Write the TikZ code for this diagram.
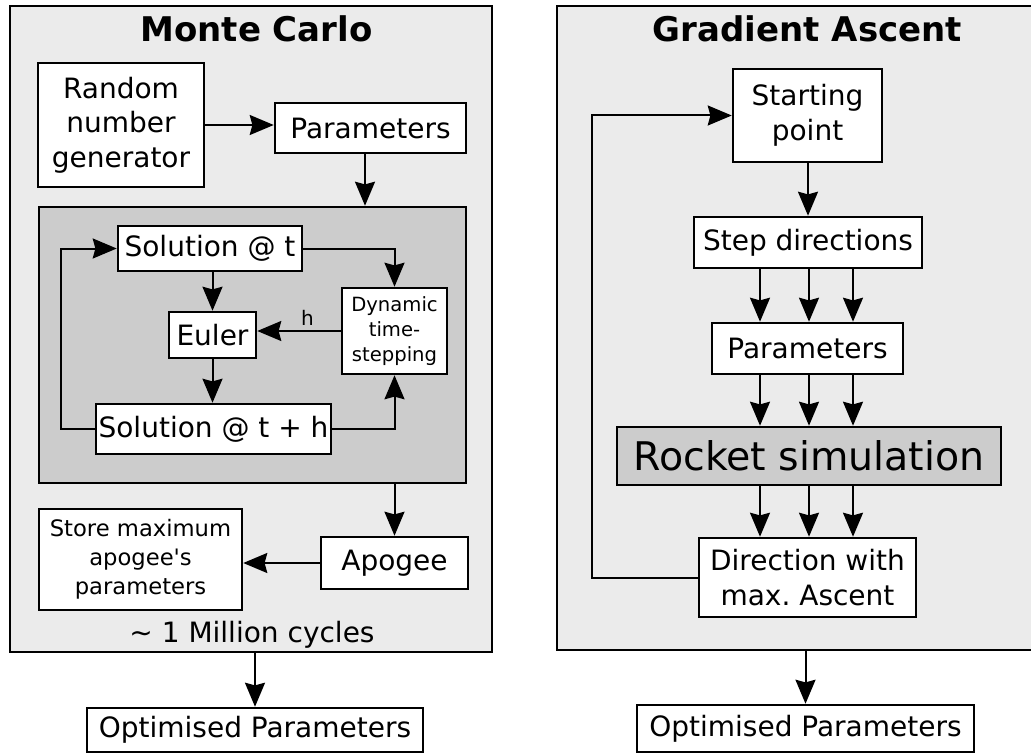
\documentclass[tikz,border=0pt]{standalone}
\usepackage{fontspec}
\setmainfont{DejaVu Sans}[Ligatures=TeXOff]
\usetikzlibrary{arrows.meta,calc}

\definecolor{panelgray}{HTML}{EBEBEB}
\definecolor{simgray}{HTML}{CCCCCC}

\tikzset{
  sz/.style 2 args={minimum width=#1*0.75pt, minimum height=#2*0.75pt},
  panel/.style={draw=black, fill=panelgray, line width=2pt, rectangle, inner sep=0pt},
  simblock/.style={draw=black, fill=simgray, line width=1.9pt, rectangle, inner sep=0pt},
  box/.style={draw=black, fill=white, line width=1.9pt, rectangle, inner sep=0pt, align=center,
              font=\fontsize{21pt}{26pt}\selectfont},
  smallbox/.style={box, font=\fontsize{14.7pt}{18.75pt}\selectfont},
  midbox/.style={box, font=\fontsize{17pt}{21.75pt}\selectfont},
  paneltitle/.style={anchor=base, font=\fontsize{25.5pt}{30pt}\selectfont\bfseries},
  flow/.style={line width=1.5pt, -{Stealth[length=18pt, width=15pt, inset=2pt]}}
}

\begin{document}
\frenchspacing
\begin{tikzpicture}[x=0.75pt, y=-0.75pt]
\useasboundingbox (0,0) rectangle (1031,756);
\clip (0,0) rectangle (1031,756);

% ---------------- Monte Carlo panel ----------------
\node[panel, sz={482}{646}] (mc) at (251,329) {};
\node[paneltitle] (mctitle) at (256.5,42) {Monte Carlo};

\node[box, sz={166}{124}] (rng) at (121,125)
  {Random\\number\\generator};
\node[box, sz={191}{50}] (mcpar) at (370.5,128) {Parameters};

\node[simblock, sz={427}{276}] (sim) at (252.5,345) {};

\node[box, sz={184}{45}] (solt) at (210,248.5) {Solution @ t};
\node[box, sz={87}{46}] (euler) at (212.5,335) {Euler};
\node[box, sz={235}{50}] (solth) at (213.5,429) {Solution @ t + h};
\node[smallbox, sz={105}{86}] (dts) at (394.5,331)
  {Dynamic\\time-\\stepping};

\node[box, sz={147}{52}] (apogee) at (394.5,563) {Apogee};
\node[midbox, sz={203}{101}] (store) at (140.5,559.5)
  {Store maximum\\apogee's\\parameters};

\node[anchor=base, font=\fontsize{21pt}{26pt}\selectfont] (cycles) at (252,642)
  {\textasciitilde\ 1 Million cycles};

\node[box, sz={336}{44}] (opt1) at (255,730) {Optimised Parameters};

\coordinate (parx) at (365,0);

\draw[flow] (rng.east) -- (rng.east -| mcpar.west);
\draw[flow] (mcpar.south -| parx) -- (sim.north -| parx);
\draw[flow] (solt.south -| euler) -- (euler.north);
\draw[flow] (euler.south) -- (euler.south |- solth.north);
\draw[flow] (solt.east) -| (dts.north);
\draw[flow] (solth.east) -| (dts.south);
\draw[flow] (dts.west) -- (dts.west -| euler.east)
  node[pos=0.4, above=0pt, font=\fontsize{15pt}{18pt}\selectfont] (hlabel) {h};
\draw[flow] (solth.west) -- ++(-34,0) |- (solt.west);
\draw[flow] (sim.south -| apogee) -- (apogee.north);
\draw[flow] (apogee.west) -- (apogee.west -| store.east);
\draw[flow] (opt1.north |- mc.south) -- (opt1.north);

% ---------------- Gradient Ascent panel ----------------
\node[panel, sz={483}{644}] (ga) at (798.5,328) {};
\node[paneltitle] (gatitle) at (807.5,42) {Gradient Ascent};

\node[box, sz={149}{93}] (start) at (807.5,115.5) {Starting\\point};
\node[box, sz={228}{51}] (steps) at (808,242.5) {Step directions};
\node[box, sz={191}{51}] (gapar) at (807.5,348.5) {Parameters};
\node[simblock, sz={384}{58},
      font=\fontsize{29.6pt}{34pt}\selectfont] (rocket) at (809,456) {Rocket simulation};
\node[box, sz={217}{79}] (dir) at (807.5,577.5)
  {Direction with\\max. Ascent};

\node[box, sz={337}{47}] (opt2) at (805.5,728.5) {Optimised Parameters};

\coordinate (ax) at (760,0);
\coordinate (bx) at (809,0);
\coordinate (cx) at (853,0);

\draw[flow] (start.south -| steps) -- (steps.north);
\foreach \c in {ax,bx,cx} {
  \draw[flow] (steps.south -| \c) -- (gapar.north -| \c);
  \draw[flow] (gapar.south -| \c) -- (rocket.north -| \c);
  \draw[flow] (rocket.south -| \c) -- (dir.north -| \c);
}
\draw[flow] (dir.west) -- ++(-106,0) |- (start.west);
\draw[flow] (opt2.north |- ga.south) -- (opt2.north);
\end{tikzpicture}
\end{document}
